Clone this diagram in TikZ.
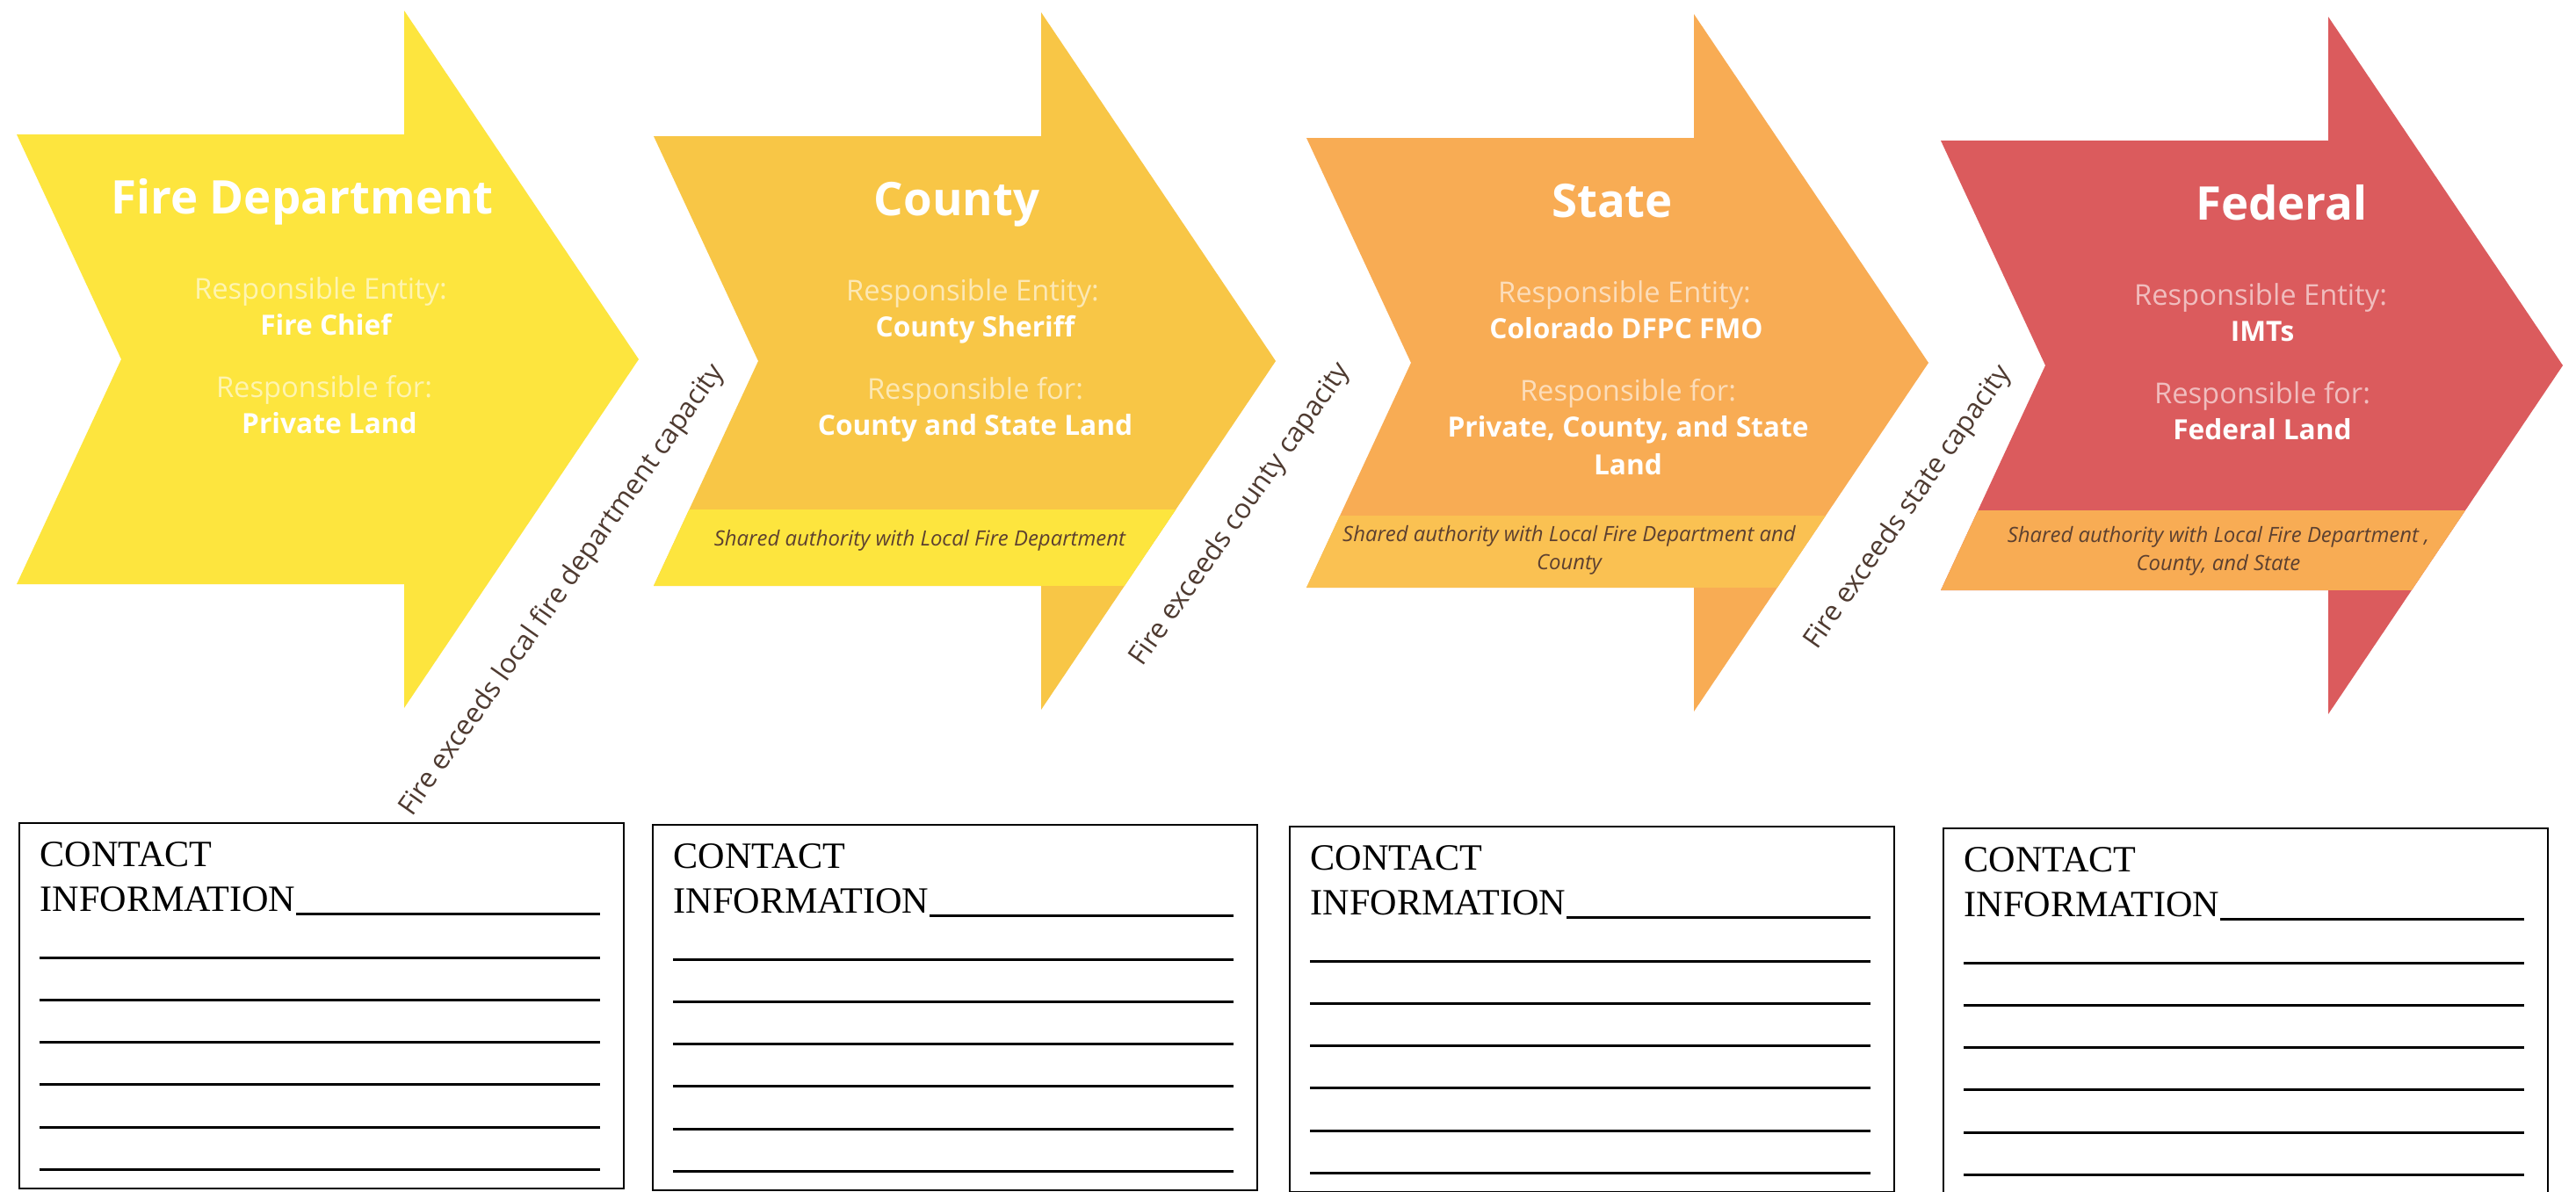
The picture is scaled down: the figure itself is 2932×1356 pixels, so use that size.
\documentclass[tikz,border=0pt]{standalone}
\usepackage{fontspec}
\setmainfont{Open Sans}
\newfontfamily\formfont{Liberation Serif}
\usetikzlibrary{positioning}

\definecolor{fdyellow}{RGB}{253,229,62}
\definecolor{cogold}{RGB}{248,198,70}
\definecolor{storange}{RGB}{248,172,84}
\definecolor{fedred}{RGB}{219,91,93}
\definecolor{bandgold}{RGB}{250,193,82}
\definecolor{bandtext}{RGB}{92,64,48}
\definecolor{gaptext}{RGB}{78,58,48}

\tikzset{
  titletext/.style={anchor=base, inner sep=0pt, text=white, font=\fontsize{15}{18}\selectfont\bfseries},
  roletext/.style={anchor=base, inner sep=0pt, text=white, text opacity=0.6, font=\fontsize{9.3}{11}\selectfont},
  valuetext/.style={anchor=base, inner sep=0pt, text=white, font=\fontsize{9}{11}\selectfont\bfseries},
  bandlabel/.style={inner sep=0pt, text=bandtext, align=center, font=\fontsize{6.8}{9}\selectfont\itshape},
  gaplabel/.style={inner sep=0pt, text=gaptext, rotate=55, font=\fontsize{8.9}{10}\selectfont},
  formtext/.style={anchor=base west, inner sep=0pt, font=\formfont\fontsize{12}{14}\selectfont},
  formline/.style={line width=0.85pt},
  formbox/.style={line width=0.7pt}
}

% chevron outline, left edge at x=0 (pixel units, y down)
\def\chevronpath{(0,153) -- (441,153) -- (441,12) -- (708,409) -- (441,806) -- (441,665) -- (0,665) -- (119,409) -- cycle}

\begin{document}
\begin{tikzpicture}[x=0.01cm, y=-0.01cm]
  \useasboundingbox (0,0) rectangle (2932,1356);
  \fill[white] (0,0) rectangle (2932,1356);

  % fire department
  \begin{scope}[shift={(19,0)}]
    \fill[fdyellow] \chevronpath;
    \node[titletext] (fdtitle) at (325,243) {Fire Department};
    \node[roletext] (fdentlabel) at (346,340) {Responsible Entity:};
    \node[valuetext] (fdentity) at (352,381) {Fire Chief};
    \node[roletext] (fdforlabel) at (350,452) {Responsible for:};
    \node[valuetext] (fdland) at (356,493) {Private Land};
  \end{scope}

  % county
  \begin{scope}[shift={(744,2)}]
    \fill[cogold] \chevronpath;
    \begin{scope}
      \clip \chevronpath;
      \fill[fdyellow] (0,578) rectangle (708,665);
    \end{scope}
    \node[titletext] (cotitle) at (345,243) {County};
    \node[roletext] (coentlabel) at (363,340) {Responsible Entity:};
    \node[valuetext] (coentity) at (366,381) {County Sheriff};
    \node[roletext] (coforlabel) at (366,452) {Responsible for:};
    \node[valuetext] (coland) at (366,493) {County and State Land};
    \node[bandlabel] (coband) at (303,613) {Shared authority with Local Fire Department};
  \end{scope}

  % state
  \begin{scope}[shift={(1487,4)}]
    \fill[storange] \chevronpath;
    \begin{scope}
      \clip \chevronpath;
      \fill[bandgold] (0,583) rectangle (708,665);
    \end{scope}
    \node[titletext] (sttitle) at (348,243) {State};
    \node[roletext] (stentlabel) at (362,340) {Responsible Entity:};
    \node[valuetext] (stentity) at (364,381) {Colorado DFPC FMO};
    \node[roletext] (stforlabel) at (366,452) {Responsible for:};
    \node[valuetext] (stland) at (366,493) {Private, County, and State};
    \node[valuetext] (stland2) at (366,536) {Land};
    \node[bandlabel] (stband) at (299,622) {Shared authority with Local Fire Department and\\County};
  \end{scope}

  % federal
  \begin{scope}[shift={(2209,7)}]
    \fill[fedred] \chevronpath;
    \begin{scope}
      \clip \chevronpath;
      \fill[storange] (0,574) rectangle (708,665);
    \end{scope}
    \node[titletext] (fetitle) at (388,243) {Federal};
    \node[roletext] (feentlabel) at (364,340) {Responsible Entity:};
    \node[valuetext] (feentity) at (366,381) {IMTs};
    \node[roletext] (feforlabel) at (366,452) {Responsible for:};
    \node[valuetext] (feland) at (366,493) {Federal Land};
    \node[bandlabel] (feband) at (316,620) {Shared authority with Local Fire Department ,\\County, and State};
  \end{scope}

  % escalation notes in the gaps
  \node[gaplabel] (gapfd) at (640,672) {Fire exceeds local fire department capacity};
  \node[gaplabel] (gapco) at (1412,586) {Fire exceeds county capacity};
  \node[gaplabel] (gapst) at (2172,578) {Fire exceeds state capacity};

  % contact forms
  \foreach \bx/\dy [count=\i] in {22/0, 743/2, 1468/4, 2212/6} {
    \begin{scope}[shift={(\bx,\dy)}]
      \draw[formbox] (0,937) rectangle (688,1353);
      \node[formtext] (contact\i) at (23,986) {CONTACT};
      \node[formtext] (info\i) at (23,1037) {INFORMATION};
      \draw[formline] (info\i.east |- 0,1040) -- (661,1040);
      \foreach \ly in {1090,1138,1186,1234,1283,1331}
        \draw[formline] (23,\ly) -- (661,\ly);
    \end{scope}
  }
\end{tikzpicture}
\end{document}
